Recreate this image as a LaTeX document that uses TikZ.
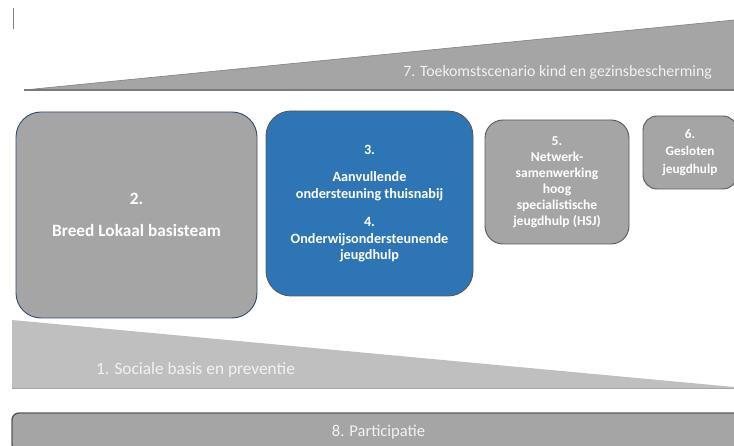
\documentclass[tikz,border=0pt]{standalone}
\usepackage{fontspec}
\setmainfont{Carlito}
\usetikzlibrary{positioning}

\definecolor{blokgrijs}{HTML}{A5A5A5}
\definecolor{lichtgrijs}{HTML}{BFBFBF}
\definecolor{blokblauw}{HTML}{2E75B6}
\definecolor{navyrand}{HTML}{2F4B73}
\definecolor{donkerrand}{HTML}{595959}
\definecolor{labelwit}{HTML}{F2F2F2}

\tikzset{
  blok/.style={draw=donkerrand, fill=blokgrijs, rounded corners=#1,
    line width=0.9pt, text=white, font=\bfseries, align=center, inner sep=0pt},
  wig/.style={text=labelwit, font=\fontsize{#1}{18}\selectfont, inner sep=0pt},
}

\begin{document}
\begin{tikzpicture}[x=1pt, y=-1pt]
    \useasboundingbox (0,0) rectangle (734,446);
    \clip (0,0) rectangle (734,446);

    % cursor streepje
    \draw[gray, line width=1pt] (13,8) -- (13,29);

    % 7. wig boven
    \fill[blokgrijs] (24,90) -- (734,20) -- (734,90) -- cycle;
    \draw[gray, line width=0.6pt] (24,90) -- (734,20);
    \draw[donkerrand!80, line width=1.2pt] (24,90) -- (734,90);
    \node[wig=15.8, anchor=east] (toekomst) at (712,72)
      {7. Toekomstscenario kind en gezinsbescherming};

    % 1. wig onder
    \fill[lichtgrijs] (12,320) -- (734,387) -- (734,389) -- (12,389) -- cycle;
    \draw[gray!70, line width=1pt] (12,389) -- (734,389);
    \node[wig=17.3, anchor=west] (sociaal) at (96,370) {1. Sociale basis en preventie};

    % blokken
    \node[blok=25pt, draw=navyrand, minimum width=241pt, minimum height=206pt,
          font=\bfseries\fontsize{17.3}{20}\selectfont] (breed) at (136.5,215)
      {2.\\[12pt] Breed Lokaal basisteam};

    \node[blok=25pt, fill=blokblauw, minimum width=207pt, minimum height=185pt,
          font=\bfseries\fontsize{14.2}{16.5}\selectfont] (aanvullend) at (369.5,203.5)
      {3.\\[11pt] Aanvullende\\ ondersteuning thuisnabij\\[12pt]
       4.\\ Onderwijsondersteunende\\ jeugdhulp};

    \node[blok=18pt, minimum width=144pt, minimum height=124pt,
          font=\bfseries\fontsize{13.6}{16}\selectfont] (netwerk) at (557,182)
      {5.\\ Netwerk-\\ samenwerking\\ hoog\\ specialistische\\ jeugdhulp (HSJ)};

    \node[blok=14pt, minimum width=94pt, minimum height=73pt,
          font=\bfseries\fontsize{13.2}{17.5}\selectfont] (gesloten) at (690,152.5)
      {6.\\ Gesloten\\ jeugdhulp};

    % 8. balk
    \node[blok=7pt, line width=1.4pt, minimum width=733pt, minimum height=38pt,
          font=\fontsize{16.5}{18}\selectfont, text=labelwit] (participatie) at (378.5,432)
      {8. Participatie};
\end{tikzpicture}
\end{document}
